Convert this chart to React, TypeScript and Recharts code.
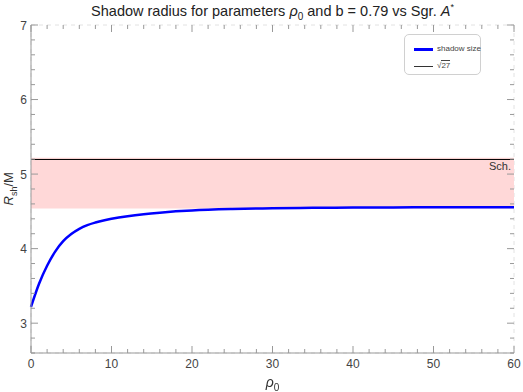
import { ComposedChart, Line, XAxis, YAxis, CartesianGrid, ReferenceArea, ReferenceLine } from 'recharts';

const rho = [0, 1, 2, 3, 4, 5, 6, 7, 8, 9, 10, 12, 14, 16, 18, 20, 25, 30, 35, 40, 45, 50, 55, 60];
const shadow = [3.22, 3.53, 3.77, 3.96, 4.1, 4.195, 4.265, 4.315, 4.35, 4.378, 4.4, 4.435, 4.462, 4.483, 4.5, 4.513, 4.532, 4.542, 4.548, 4.551, 4.553, 4.554, 4.555, 4.556];

const schwarzschild = 5.196; // sqrt(27)
const bandLow = 4.54;
const bandHigh = 5.22;

const majorX = [0, 10, 20, 30, 40, 50, 60];
const minorX = [0, 2, 4, 6, 8, 10, 12, 14, 16, 18, 20, 22, 24, 26, 28, 30, 32, 34, 36, 38, 40, 42, 44, 46, 48, 50, 52, 54, 56, 58, 60];
const majorY = [3, 4, 5, 6, 7];
const minorY = [2.6, 2.8, 3, 3.2, 3.4, 3.6, 3.8, 4, 4.2, 4.4, 4.6, 4.8, 5, 5.2, 5.4, 5.6, 5.8, 6, 6.2, 6.4, 6.6, 6.8, 7];

const data = rho.map((r, i) => ({ rho: r, rsh: shadow[i] }));

const W = 523;
const H = 392;
const TOP = 25;
const BOTTOM = 353;
const LEFT = 31;
const RIGHT = 514;
const FRAME = '#999';
const LABEL = '#444';
const FONT = '"Liberation Sans", Arial, Helvetica, sans-serif';

const isMajor = (v: number) => Math.abs(v - Math.round(v)) < 1e-6;

function XTick(props: any) {
  const { x, payload } = props;
  const v = payload.value;
  const major = v % 10 === 0;
  const len = major ? 7 : 4;
  return (
    <g>
      <line x1={x} x2={x} y1={BOTTOM} y2={BOTTOM - len} stroke={FRAME} />
      <line x1={x} x2={x} y1={TOP} y2={TOP + len} stroke={FRAME} />
      {major && (
        <text x={x} y={BOTTOM + 15} textAnchor="middle" fontSize={12} fill={LABEL} fontFamily={FONT}>
          {v}
        </text>
      )}
    </g>
  );
}

function YTick(props: any) {
  const { y, payload } = props;
  const v = payload.value;
  const major = isMajor(v);
  const len = major ? 7 : 4;
  return (
    <g>
      <line x1={LEFT} x2={LEFT + len} y1={y} y2={y} stroke={FRAME} />
      <line x1={RIGHT} x2={RIGHT - len} y1={y} y2={y} stroke={FRAME} />
      {major && (
        <text x={LEFT - 4} y={y + 4.5} textAnchor="end" fontSize={12} fill={LABEL} fontFamily={FONT}>
          {Math.round(v)}
        </text>
      )}
    </g>
  );
}

export default function App() {
  return (
    <div style={{ position: 'fixed', left: 0, top: 0, width: W, height: H, background: '#fff', fontFamily: FONT }}>
      <ComposedChart width={W} height={H} data={data} margin={{ top: TOP, right: W - RIGHT, bottom: 0, left: 0 }}>
        <CartesianGrid xAxisId="t" yAxisId="r" stroke="#e2e2e2" strokeDasharray="4 4" />
        <XAxis
          xAxisId="b"
          dataKey="rho"
          type="number"
          domain={[0, 60]}
          ticks={minorX}
          interval={0}
          tick={XTick}
          tickLine={false}
          axisLine={{ stroke: FRAME }}
          height={H - BOTTOM}
          orientation="bottom"
        />
        <XAxis
          xAxisId="t"
          dataKey="rho"
          type="number"
          domain={[0, 60]}
          ticks={majorX}
          tick={false}
          tickLine={false}
          axisLine={{ stroke: FRAME }}
          height={0}
          orientation="top"
        />
        <YAxis
          yAxisId="l"
          type="number"
          domain={[2.6, 7]}
          ticks={minorY}
          interval={0}
          tick={YTick}
          tickLine={false}
          axisLine={{ stroke: FRAME }}
          width={LEFT}
          orientation="left"
        />
        <YAxis
          yAxisId="r"
          type="number"
          domain={[2.6, 7]}
          ticks={majorY}
          tick={false}
          tickLine={false}
          axisLine={{ stroke: FRAME }}
          width={0}
          orientation="right"
        />
        <ReferenceArea xAxisId="b" yAxisId="l" y1={bandLow} y2={bandHigh} fill="#ffd8d8" fillOpacity={1} stroke="none" />
        <ReferenceLine
          xAxisId="b"
          yAxisId="l"
          y={schwarzschild}
          stroke="#000"
          strokeWidth={1}
          label={{ value: 'Sch.', position: 'insideTopRight', offset: 3, fill: '#333', fontSize: 11, fontFamily: FONT }}
        />
        <Line
          xAxisId="b"
          yAxisId="l"
          type="monotone"
          dataKey="rsh"
          stroke="#0000ff"
          strokeWidth={2.5}
          dot={false}
          isAnimationActive={false}
        />
      </ComposedChart>

      <div style={{ position: 'absolute', left: LEFT, width: RIGHT - LEFT, top: 2, textAlign: 'center', fontSize: 14.5, color: '#222', whiteSpace: 'nowrap' }}>
        Shadow radius for parameters <i>ρ</i><sub style={{ fontSize: 10 }}>0</sub> and b = 0.79 vs Sgr. <i>A</i><sup style={{ fontSize: 9 }}>*</sup>
      </div>

      <div style={{ position: 'absolute', left: LEFT, width: RIGHT - LEFT, top: 374, textAlign: 'center', fontSize: 14, color: '#333' }}>
        <i>ρ</i><sub style={{ fontSize: 10 }}>0</sub>
      </div>

      <div
        style={{
          position: 'absolute',
          left: -40,
          top: 180,
          width: 100,
          textAlign: 'center',
          fontSize: 13,
          color: '#333',
          transform: 'rotate(-90deg)',
          whiteSpace: 'nowrap',
        }}
      >
        <i>R</i><sub style={{ fontSize: 9 }}>sh</sub>/M
      </div>

      <div
        style={{
          position: 'absolute',
          left: 404,
          top: 34,
          width: 75,
          height: 39,
          border: '1px solid #d0d0d0',
          borderRadius: 5,
          background: '#fff',
          fontSize: 8,
          lineHeight: '10px',
          color: '#444',
          whiteSpace: 'nowrap',
        }}
      >
        <div style={{ position: 'absolute', left: 9, top: 13, width: 19, height: 2.5, background: '#0000ff' }} />
        <div style={{ position: 'absolute', left: 32, top: 9 }}>shadow size</div>
        <div style={{ position: 'absolute', left: 9, top: 31, width: 19, height: 1, background: '#333' }} />
        <div style={{ position: 'absolute', left: 32, top: 26 }}>
          √<span style={{ borderTop: '1px solid #444' }}>27</span>
        </div>
      </div>
    </div>
  );
}
